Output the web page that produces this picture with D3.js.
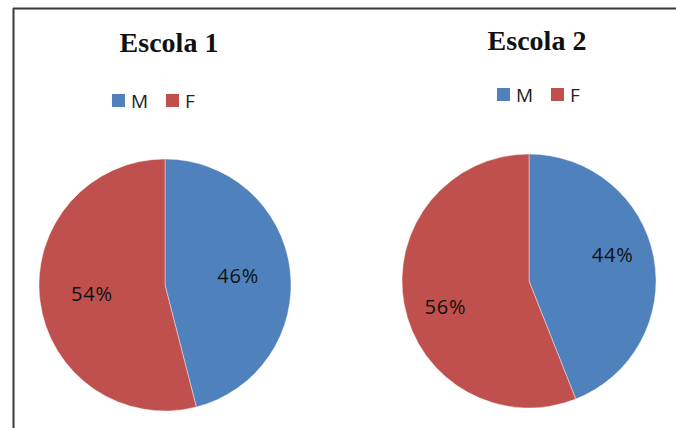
<!DOCTYPE html>
<html>
<head>
<meta charset="utf-8">
<script src="https://cdn.jsdelivr.net/npm/d3@7/dist/d3.min.js"></script>
<style>
  html, body { margin: 0; padding: 0; background: #fff; }
  svg { display: block; }
</style>
</head>
<body>
<svg id="chart" width="676" height="428"></svg>
<script>
// Gender split per school
const categories = ["M", "F"];
const schools = ["Escola 1", "Escola 2"];
const escola1 = [46, 54];
const escola2 = [44, 56];
const seriesValues = [escola1, escola2];

const colors = d3.scaleOrdinal().domain(categories).range(["#4F81BD", "#C0504D"]);

// Panel layout for each pie (centre, radius, title/legend anchors, label placement)
const panels = [
  { cx: 165, cy: 285, r: 126, titleX: 169, titleY: 52, legendX: 112, legendY: 94, labelFrac: 0.585, labelRot: 0 },
  { cx: 529, cy: 281, r: 127, titleX: 537, titleY: 50, legendX: 497, legendY: 88, labelFrac: 0.69, labelRot: -6.5 }
];

const svg = d3.select("#chart");

// Frame: top and left edges
svg.append("line").attr("x1", 13).attr("x2", 676).attr("y1", 8.5).attr("y2", 8.5)
  .attr("stroke", "#3a3a3a").attr("stroke-width", 2);
svg.append("line").attr("x1", 13.5).attr("x2", 13.5).attr("y1", 8).attr("y2", 428)
  .attr("stroke", "#3a3a3a").attr("stroke-width", 2);

const pie = d3.pie().sort(null).value(d => d.value);

schools.forEach((name, i) => {
  const p = panels[i];
  const data = categories.map((c, j) => ({ cat: c, value: seriesValues[i][j] }));
  const total = d3.sum(data, d => d.value);

  // Title
  svg.append("text")
    .attr("x", p.titleX).attr("y", p.titleY)
    .attr("text-anchor", "middle")
    .attr("font-family", "'Liberation Serif', 'Times New Roman', serif")
    .attr("font-weight", "bold")
    .attr("font-size", 28)
    .attr("fill", "#111")
    .text(name);

  // Legend
  const lg = svg.append("g").attr("transform", `translate(${p.legendX},${p.legendY})`);
  const offsets = [0, 54];
  categories.forEach((c, j) => {
    const g = lg.append("g").attr("transform", `translate(${offsets[j]},0)`);
    g.append("rect").attr("width", 13).attr("height", 13).attr("fill", colors(c));
    g.append("text")
      .attr("x", 19).attr("y", 13.5)
      .attr("font-family", "'Open Sans', sans-serif")
      .attr("font-size", 19)
      .attr("fill", "#222")
      .text(c);
  });

  // Pie slices
  const arc = d3.arc().innerRadius(0).outerRadius(p.r);
  const g = svg.append("g").attr("transform", `translate(${p.cx},${p.cy})`);
  const arcs = pie(data);

  g.selectAll("path").data(arcs).join("path")
    .attr("d", arc)
    .attr("fill", d => colors(d.data.cat))
    .attr("stroke", "#ffffff")
    .attr("stroke-opacity", 0.5)
    .attr("stroke-width", 0.8);

  // Percentage labels placed along each slice's mid-angle
  const labelPos = d => {
    const a = (d.startAngle + d.endAngle) / 2 + p.labelRot * Math.PI / 180;
    const rr = p.r * p.labelFrac;
    return [Math.sin(a) * rr, -Math.cos(a) * rr];
  };

  g.selectAll("text.pct").data(arcs).join("text")
    .attr("class", "pct")
    .attr("transform", d => `translate(${labelPos(d)})`)
    .attr("text-anchor", "middle")
    .attr("dy", "0.36em")
    .attr("font-family", "'Open Sans', sans-serif")
    .attr("font-size", 20)
    .attr("letter-spacing", 0.8)
    .attr("fill", "#111")
    .text(d => Math.round(d.data.value / total * 100) + "%");
});
</script>
</body>
</html>
